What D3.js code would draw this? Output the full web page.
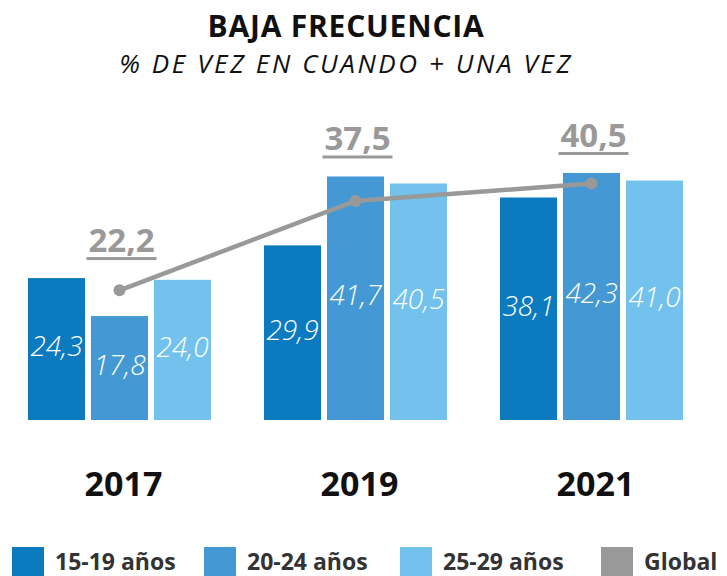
<!DOCTYPE html>
<html>
<head>
<meta charset="utf-8">
<script src="https://cdn.jsdelivr.net/npm/d3@7"></script>
<style>
  body { margin: 0; background: #fff; }
  text { font-family: "Open Sans", Lato, sans-serif; }
</style>
</head>
<body>
<div id="chart"></div>
<script>
const years = ['2017', '2019', '2021']
const groups = ['15-19 años', '20-24 años', '25-29 años']
const values1519 = [24.3, 29.9, 38.1]
const values2024 = [17.8, 41.7, 42.3]
const values2529 = [24.0, 40.5, 41.0]
const globalValues = [22.2, 37.5, 40.5]
const colours = ['#0c7abf', '#4499d5', '#72c2ed']
const grey = '#999999'

const width = 727
const height = 576

const fmt = v => d3.format('.1f')(v).replace('.', ',')

const svg = d3.select('#chart')
.append('svg')
.attr('width', width)
.attr('height', height)

const series = [values1519, values2024, values2529]
const data = years.map((y, i) => ({
  year: y,
  values: series.map((s, k) => ({key: groups[k], value: s[i], k})),
  global: globalValues[i]
}))

const x0 = d3.scaleBand()
.domain(years)
.range([28, 683])
.paddingInner(53 / 236)
.paddingOuter(0)

const x1 = d3.scaleBand()
.domain(d3.range(3))
.range([0, x0.bandwidth()])
.paddingInner(6 / 63)
.paddingOuter(0)

const yScale = d3.scaleLinear()
.domain([0, 50])
.range([420, 420 - 50 * 5.84])

// title
svg.append('text')
.attr('x', 346).attr('y', 37)
.attr('text-anchor', 'middle')
.attr('font-size', 30).attr('font-weight', 700)
.attr('letter-spacing', 0.8)
.attr('fill', '#111')
.text('BAJA FRECUENCIA')

svg.append('text')
.attr('x', 346).attr('y', 73)
.attr('text-anchor', 'middle')
.attr('font-size', 26).attr('font-style', 'italic')
.attr('letter-spacing', 2.6)
.attr('fill', '#111')
.text('% DE VEZ EN CUANDO + UNA VEZ')

const g = svg.append('g')

const yearG = g.selectAll('g.year')
.data(data)
.enter()
.append('g')
.attr('class', 'year')
.attr('transform', d => `translate(${x0(d.year)},0)`)

yearG.selectAll('rect')
.data(d => d.values)
.enter()
.append('rect')
.attr('x', d => x1(d.k))
.attr('width', x1.bandwidth())
.attr('y', d => yScale(d.value))
.attr('height', d => yScale(0) - yScale(d.value))
.attr('fill', d => colours[d.k])

yearG.selectAll('text.val')
.data(d => d.values)
.enter()
.append('text')
.attr('class', 'val')
.attr('x', d => x1(d.k) + x1.bandwidth() / 2)
.attr('y', d => (yScale(d.value) + yScale(0)) / 2 + 7)
.attr('text-anchor', 'middle')
.attr('font-size', 28)
.attr('font-weight', 300)
.attr('font-style', 'italic')
.attr('fill', '#fff')
.text(d => fmt(d.value))

// year labels
yearG.append('text')
.attr('x', x0.bandwidth() / 2 + 4)
.attr('y', 496)
.attr('text-anchor', 'middle')
.attr('font-size', 34)
.attr('font-weight', 700)
.attr('fill', '#111')
.text(d => d.year)

// global line
const cx = d => x0(d.year) + x0.bandwidth() / 2
const line = d3.line()
.x(cx)
.y(d => yScale(d.global))

g.append('path')
.attr('d', line(data))
.attr('fill', 'none')
.attr('stroke', grey)
.attr('stroke-width', 4.5)

g.selectAll('circle')
.data(data)
.enter()
.append('circle')
.attr('cx', cx)
.attr('cy', d => yScale(d.global))
.attr('r', 6)
.attr('fill', grey)

// global labels above the tallest bar
const labG = g.selectAll('g.glab')
.data(data)
.enter()
.append('g')
.attr('class', 'glab')
.attr('transform', d => `translate(${cx(d) + 2},${yScale(d3.max(d.values, v => v.value)) - 26})`)

labG.append('text')
.attr('text-anchor', 'middle')
.attr('font-size', 33)
.attr('font-weight', 700)
.attr('fill', grey)
.text(d => fmt(d.global))

labG.append('rect')
.attr('x', -35).attr('width', 70)
.attr('y', 5).attr('height', 3)
.attr('fill', grey)

// legend
const legendItems = groups.map((k, i) => ({label: k, colour: colours[i]}))
.concat([{label: 'Global', colour: grey}])
const legendX = [12, 204, 400, 601]

const leg = svg.selectAll('g.leg')
.data(legendItems)
.enter()
.append('g')
.attr('class', 'leg')
.attr('transform', (d, i) => `translate(${legendX[i]},547)`)

leg.append('rect')
.attr('width', 32).attr('height', 30)
.attr('fill', d => d.colour)

leg.append('text')
.attr('x', 43).attr('y', 23)
.attr('font-size', 23)
.attr('font-weight', 700)
.attr('fill', '#333')
.text(d => d.label)
</script>
</body>
</html>
